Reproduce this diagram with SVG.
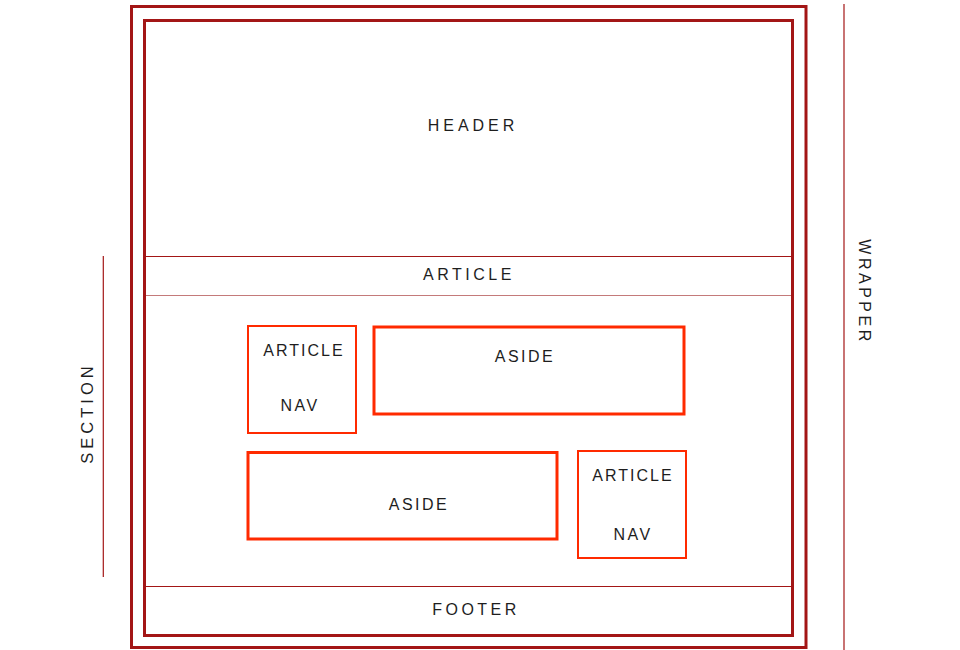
<svg xmlns="http://www.w3.org/2000/svg" width="960" height="650" viewBox="0 0 960 650">
<style>
.frame{fill:none;stroke:#a31616;stroke-width:3}
.rule{stroke:#a31616;stroke-width:1.2;fill:none}
.rule-light{stroke:#c47a7a;stroke-width:1;fill:none}
.box{fill:none;stroke:#ff2a00;stroke-width:2}
.box-thick{fill:none;stroke:#ff2a00;stroke-width:3}
.lbl{font-family:"Liberation Sans",Arial,sans-serif;font-size:16px;fill:#1e1e1e;text-anchor:middle;letter-spacing:3px}
</style>
<rect width="960" height="650" fill="#ffffff"/>
<g id="wrapper">
<rect class="frame" x="131.5" y="6.5" width="674.5" height="641"/>
<line class="rule" x1="844" y1="4" x2="844" y2="650"/>
<text class="lbl" transform="translate(859,292) rotate(90)" style="letter-spacing:3.5px">WRAPPER</text>
</g>
<g id="section">
<rect class="frame" x="144.5" y="20.5" width="648" height="615"/>
<line class="rule" x1="103.3" y1="256" x2="103.3" y2="577"/>
<text class="lbl" transform="translate(93,413) rotate(-90)" style="letter-spacing:4px;font-size:16.5px">SECTION</text>
</g>
<g id="header">
<text class="lbl" x="473" y="131" style="letter-spacing:4px">HEADER</text>
</g>
<g id="article-band">
<text class="lbl" x="469" y="280" style="letter-spacing:3.5px">ARTICLE</text>
</g>
<g id="footer">
<text class="lbl" x="476" y="615" style="letter-spacing:3.5px">FOOTER</text>
</g>
<g id="connectors">
<line class="rule" x1="146" y1="256.5" x2="791" y2="256.5"/>
<line class="rule-light" x1="146" y1="295.5" x2="791" y2="295.5"/>
<line class="rule" x1="146" y1="586.5" x2="791" y2="586.5"/>
</g>
<g id="article-nav-1">
<rect class="box" x="248" y="326" width="108" height="107"/>
<text class="lbl" x="304" y="355.5" style="letter-spacing:2px">ARTICLE</text>
<text class="lbl" x="300" y="411" style="letter-spacing:2.5px">NAV</text>
</g>
<g id="aside-1">
<rect class="box-thick" x="374" y="327" width="310" height="87"/>
<text class="lbl" x="525" y="362" style="letter-spacing:2.5px">ASIDE</text>
</g>
<g id="aside-2">
<rect class="box-thick" x="248" y="452.5" width="309" height="86.5"/>
<text class="lbl" x="419" y="510" style="letter-spacing:2.5px">ASIDE</text>
</g>
<g id="article-nav-2">
<rect class="box" x="578" y="451" width="108" height="107"/>
<text class="lbl" x="633" y="481" style="letter-spacing:2px">ARTICLE</text>
<text class="lbl" x="633" y="539.5" style="letter-spacing:2.5px">NAV</text>
</g>
</svg>
